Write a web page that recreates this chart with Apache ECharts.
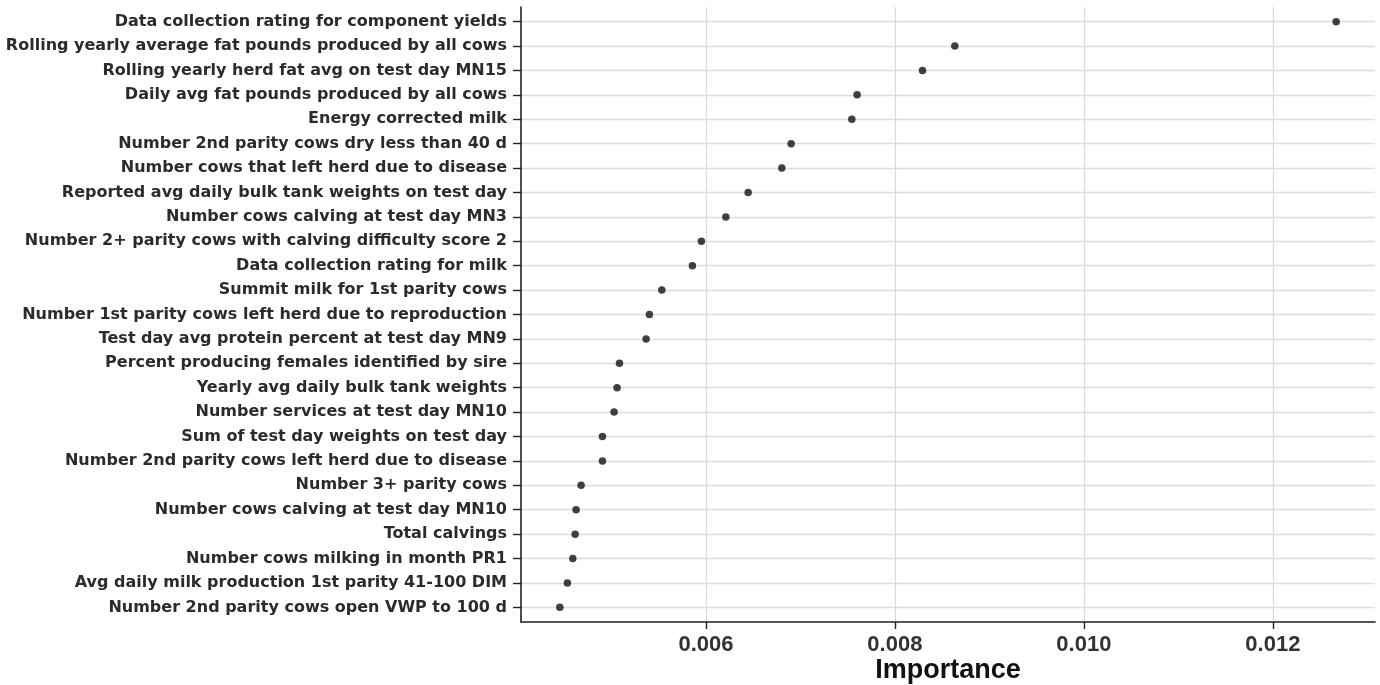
<!DOCTYPE html>
<html>
<head>
<meta charset="utf-8">
<script src="https://cdn.jsdelivr.net/npm/echarts@6/dist/echarts.min.js"></script>
<style>
html,body{margin:0;padding:0;background:#fff;}
#chart{width:1380px;height:685px;}
</style>
</head>
<body>
<div id="chart"></div>
<script>
// Feature names, top to bottom
const categories = [
  "Data collection rating for component yields",
  "Rolling yearly average fat pounds produced by all cows",
  "Rolling yearly herd fat avg on test day MN15",
  "Daily avg fat pounds produced by all cows",
  "Energy corrected milk",
  "Number 2nd parity cows dry less than 40 d",
  "Number cows that left herd due to disease",
  "Reported avg daily bulk tank weights on test day",
  "Number cows calving at test day MN3",
  "Number 2+ parity cows with calving difficulty score 2",
  "Data collection rating for milk",
  "Summit milk for 1st parity cows",
  "Number 1st parity cows left herd due to reproduction",
  "Test day avg protein percent at test day MN9",
  "Percent producing females identified by sire",
  "Yearly avg daily bulk tank weights",
  "Number services at test day MN10",
  "Sum of test day weights on test day",
  "Number 2nd parity cows left herd due to disease",
  "Number 3+ parity cows",
  "Number cows calving at test day MN10",
  "Total calvings",
  "Number cows milking in month PR1",
  "Avg daily milk production 1st parity 41-100 DIM",
  "Number 2nd parity cows open VWP to 100 d"
];
// Importance values (same order)
const importance = [
  0.01267, 0.008634, 0.008292, 0.007600, 0.007544,
  0.006902, 0.006803, 0.006447, 0.006211, 0.005952,
  0.005857, 0.005533, 0.005402, 0.005367, 0.005085,
  0.005060, 0.005028, 0.004905, 0.004905, 0.004679,
  0.004626, 0.004616, 0.004591, 0.004534, 0.004454
];
const xTicks = [0.006, 0.008, 0.010, 0.012];
const xTitle = "Importance";

const positions = categories.map((c, i) => i + 1);
const points = importance.map((v, i) => [v, positions[i]]);

const chart = echarts.init(document.getElementById('chart'), null, {renderer: 'canvas'});
chart.setOption({
  animation: false,
  backgroundColor: '#ffffff',
  grid: {left: 521, right: 5, top: 7, bottom: 63, containLabel: false, outerBoundsMode: 'none'},
  xAxis: {
    type: 'value',
    min: 0.004043,
    max: 0.013081,
    axisLine: {show: true, lineStyle: {color: '#222', width: 1.6}},
    axisTick: {show: true, customValues: xTicks, length: 7, lineStyle: {color: '#222', width: 1.4}},
    axisLabel: {
      customValues: xTicks,
      formatter: v => v.toFixed(3),
      fontFamily: 'Liberation Sans, Arial, sans-serif',
      fontWeight: 'bold', fontSize: 22, color: '#333', margin: 12
    },
    splitLine: {show: true, lineStyle: {color: '#d6d9de', width: 1.2}},
    name: xTitle,
    nameLocation: 'middle',
    nameGap: 35,
    nameMoveOverlap: false,
    nameTextStyle: {fontFamily: 'Liberation Sans, Arial, sans-serif', fontWeight: 'bold', fontSize: 27, color: '#111', verticalAlign: 'top'}
  },
  yAxis: {
    type: 'value',
    inverse: true,
    min: 0.4,
    max: 25.6,
    axisLine: {show: true, lineStyle: {color: '#222', width: 1.6}},
    axisTick: {show: true, customValues: positions, length: 8, lineStyle: {color: '#222', width: 1.4}},
    axisLabel: {
      customValues: positions,
      formatter: v => categories[Math.round(v) - 1] || '',
      fontFamily: 'DejaVu Sans, sans-serif',
      fontWeight: 'bold', fontSize: 16, color: '#2b2b2b', margin: 14
    },
    splitLine: {show: true, lineStyle: {color: '#dcdcdc', width: 1.4}}
  },
  series: [{
    type: 'scatter',
    data: points,
    symbol: 'circle',
    symbolSize: 7.5,
    itemStyle: {color: '#111'},
    z: 5
  }]
});
</script>
</body>
</html>
